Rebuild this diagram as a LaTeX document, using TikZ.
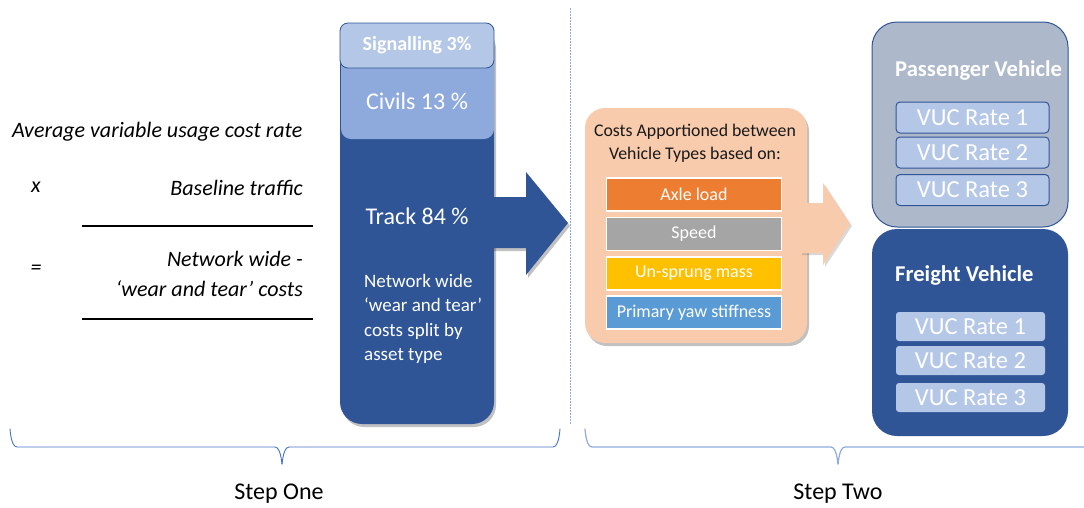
\documentclass[tikz,border=0pt]{standalone}
\usepackage{fontspec}
\setmainfont{Carlito}
\usetikzlibrary{shadows}
\definecolor{navy}{HTML}{2F5597}
\definecolor{paleblue}{HTML}{B4C7E7}
\definecolor{midblue}{HTML}{8EA9DB}
\definecolor{peach}{HTML}{F8CBAD}
\definecolor{axle}{HTML}{ED7D31}
\definecolor{speedgray}{HTML}{A5A5A5}
\definecolor{gold}{HTML}{FFC000}
\definecolor{yawblue}{HTML}{5B9BD5}
\definecolor{slate}{HTML}{ADB9CA}
\definecolor{bracea}{HTML}{4472C4}
\definecolor{braceb}{HTML}{8FAADC}
\begin{document}
\begin{tikzpicture}[x=1pt,y=-1pt,
  softshadow/.style={drop shadow={shadow xshift=2pt,shadow yshift=-3pt,opacity=0.35,fill=black!70}},
  panel/.style={rectangle,inner sep=0pt},
  factor/.style={panel,draw=white,line width=1.5pt,minimum width=175pt,minimum height=33pt,
                 text=white,font=\fontsize{18}{21}\selectfont},
  vucp/.style={panel,rounded corners=4pt,fill=paleblue,draw=navy,line width=1pt,
               minimum width=153pt,minimum height=31pt,text=white,font=\fontsize{24.5}{27}\selectfont},
  vucf/.style={panel,rounded corners=3pt,fill=paleblue,
               minimum width=149pt,minimum height=29pt,text=white,font=\fontsize{24.5}{27}\selectfont},
  lefttext/.style={font=\fontsize{22}{25}\selectfont\itshape,inner sep=0pt},
  steptext/.style={font=\fontsize{24}{27}\selectfont,inner sep=0pt},
  rule/.style={line width=1.2pt,black},
]
\useasboundingbox (0,0) rectangle (1084,507);

% ---- formula on the left
\node[lefttext,anchor=west] (avg) at (12,132) {Average variable usage cost rate};
\node[lefttext] (times) at (36,187) {x};
\node[lefttext,anchor=east] (traffic) at (303,188) {Baseline traffic};
\draw[rule] (82,226) -- (313,226);
\node[lefttext] (equals) at (36,270) {=};
\node[lefttext,anchor=east] (netwide) at (303,259) {Network wide -};
\node[lefttext,anchor=east] (wear) at (303,289) {‘wear and tear’ costs};
\draw[rule] (82,319) -- (313,319);

% ---- stacked asset-type column
\node[panel,rounded corners=22pt,fill=navy,minimum width=154pt,minimum height=400pt,softshadow]
  (track) at (417,224) {};
\node[panel,rounded corners=10pt,fill=midblue,minimum width=153pt,minimum height=84pt]
  (civils) at (417.5,97) {};
\node[panel,rounded corners=8pt,fill=paleblue,draw=navy,line width=0.8pt,minimum width=154pt,minimum height=45pt]
  (signal) at (417,45.5) {};
\node[text=white,font=\fontsize{20}{23}\selectfont\bfseries] (signaltxt) at (417,45) {Signalling 3\%};
\node[text=white,font=\fontsize{24}{28}\selectfont] (civilstxt) at (417,101) {Civils 13 \%};
\node[text=white,font=\fontsize{24}{28}\selectfont] (tracktxt) at (417,216) {Track 84 \%};
\node[text=white,font=\fontsize{19}{24.5}\selectfont,anchor=north west,align=left,inner sep=0pt]
  (splittxt) at (364,274) {Network wide\\‘wear and tear’\\costs split by\\asset type};

% ---- block arrow into step two
\fill[navy,softshadow] (490,197) -- (526,197) -- (526,172) -- (568,223) -- (526,275) -- (526,248) -- (490,248) -- cycle;

% ---- divider between the steps
\draw[braceb,line width=1pt,dash pattern=on 1.5pt off 1.5pt] (570,8) -- (570,425);

% ---- apportioning factors
\node[panel,rounded corners=20pt,fill=peach,minimum width=222pt,minimum height=235pt,softshadow]
  (apportion) at (696,225.5) {};
\node[align=center,font=\fontsize{17.8}{23}\selectfont,text=black!90] (apptitle) at (695,143.5)
  {Costs Apportioned between\\Vehicle Types based on:};
\node[factor,fill=axle] (axlebar) at (694,194.5) {Axle load};
\node[factor,fill=speedgray] (speedbar) at (694,234) {Speed};
\node[factor,fill=gold] (sprungbar) at (694,273.5) {Un-sprung mass};
\node[factor,fill=yawblue] (yawbar) at (694,312.5) {Primary yaw stiffness};

\fill[peach,drop shadow={shadow xshift=2pt,shadow yshift=-2pt,opacity=0.25,fill=black!60}]
  (800,203) -- (823,203) -- (823,183) -- (850,224) -- (823,265) -- (823,253) -- (800,253) -- cycle;

% ---- vehicle groups
\node[panel,rounded corners=25pt,fill=slate,draw=navy,line width=1pt,minimum width=196pt,minimum height=205pt]
  (passenger) at (970,124.5) {};
\node[text=white,font=\fontsize{22.6}{25}\selectfont\bfseries,anchor=west,inner sep=0pt] (passtitle) at (895,70) {Passenger Vehicle};
\node[vucp] (p1) at (972.5,117.5) {VUC Rate 1};
\node[vucp] (p2) at (972.5,152.5) {VUC Rate 2};
\node[vucp] (p3) at (972.5,190) {VUC Rate 3};

\node[panel,rounded corners=25pt,fill=navy,minimum width=196pt,minimum height=207pt]
  (freight) at (970,332.5) {};
\node[text=white,font=\fontsize{22.6}{25}\selectfont\bfseries,anchor=west,inner sep=0pt] (freighttitle) at (895,275) {Freight Vehicle};
\node[vucf] (f1) at (970.5,326.5) {VUC Rate 1};
\node[vucf] (f2) at (970.5,360.5) {VUC Rate 2};
\node[vucf] (f3) at (970.5,397.5) {VUC Rate 3};

% ---- step braces and captions
\draw[bracea,line width=0.9pt] (10,430) to[out=90,in=180] (17,447) -- (275,447)
  to[out=0,in=-90] (282,463);
\draw[bracea,line width=0.9pt] (282,463) to[out=-90,in=180] (289,447) -- (553,447)
  to[out=0,in=90] (560,430);
\draw[braceb,line width=1.2pt] (585,430) to[out=90,in=180] (592,447) -- (831,447)
  to[out=0,in=-90] (838,463);
\draw[braceb,line width=1.2pt] (838,463) to[out=-90,in=180] (845,447) -- (1084,447);
\node[steptext] (stepone) at (279,494) {Step One};
\node[steptext] (steptwo) at (838,494) {Step Two};
\end{tikzpicture}
\end{document}
